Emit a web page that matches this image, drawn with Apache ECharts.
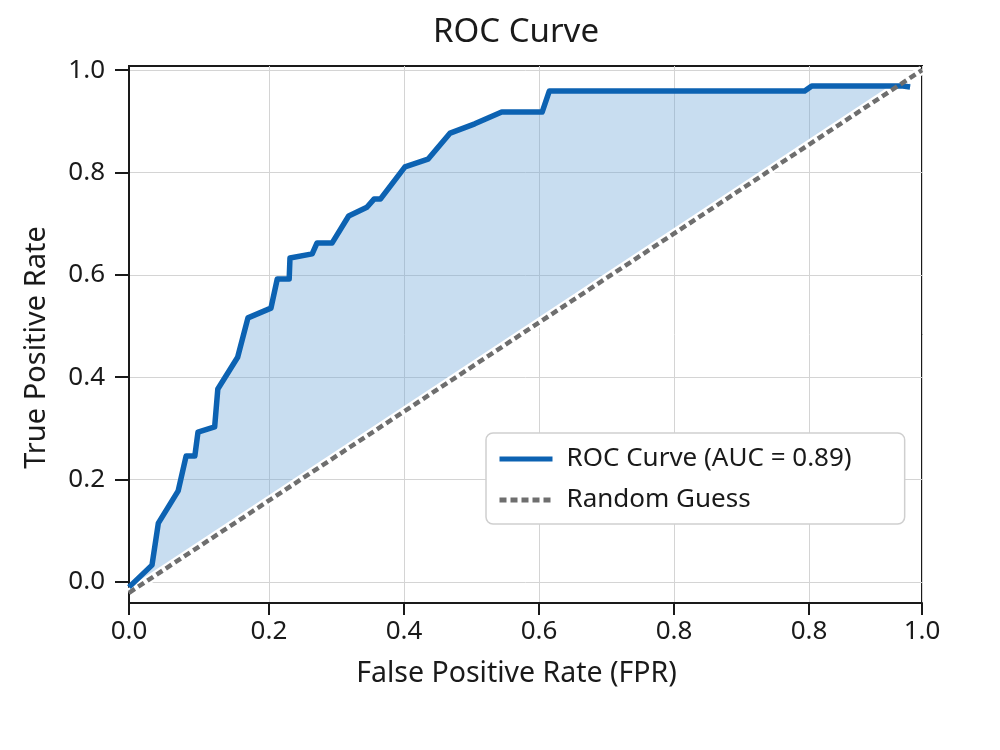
<!DOCTYPE html>
<html>
<head>
<meta charset="utf-8">
<script src="https://cdn.jsdelivr.net/npm/echarts@6/dist/echarts.min.js"></script>
<style>
html,body{margin:0;padding:0;background:#fff;}
#chart{width:1000px;height:750px;}
</style>
</head>
<body>
<div id="chart"></div>
<script>
// ---- data ----
const rocFpr = [0.000, 0.029, 0.037, 0.062, 0.072, 0.083, 0.087, 0.108, 0.112, 0.137, 0.150, 0.179, 0.187, 0.202, 0.203, 0.231, 0.237, 0.256, 0.277, 0.300, 0.309, 0.317, 0.348, 0.377, 0.405, 0.436, 0.470, 0.521, 0.530, 0.852, 0.861, 0.976, 0.985];
const rocTpr = [-0.010, 0.033, 0.115, 0.178, 0.246, 0.246, 0.293, 0.303, 0.377, 0.439, 0.516, 0.535, 0.592, 0.592, 0.633, 0.641, 0.662, 0.662, 0.715, 0.732, 0.748, 0.748, 0.811, 0.826, 0.877, 0.895, 0.918, 0.918, 0.959, 0.959, 0.969, 0.969, 0.967];
const diagFpr = [0, 1];
const diagTpr = [-0.021, 1.0];
const xTickValues = [0, 0.1765, 0.3468, 0.5170, 0.6873, 0.8575, 1.0];
const xTickLabels = ['0.0', '0.2', '0.4', '0.6', '0.8', '0.8', '1.0'];
const yTickValues = [0, 0.2, 0.4, 0.6, 0.8, 1.0];
const yTickLabels = ['0.0', '0.2', '0.4', '0.6', '0.8', '1.0'];
const rocName = 'ROC Curve (AUC = 0.89)';
const diagName = 'Random Guess';

const rocData = rocFpr.map((x, i) => [x, rocTpr[i]]);
const diagData = diagFpr.map((x, i) => [x, diagTpr[i]]);

const FONT = 'Noto Sans';
const INK = '#1a1a1a';
const chart = echarts.init(document.getElementById('chart'), null, {renderer: 'canvas'});

function labelFor(values, labels) {
  return function (v) {
    let best = 0, bd = Infinity;
    values.forEach((t, i) => { const d = Math.abs(t - v); if (d < bd) { bd = d; best = i; } });
    return labels[best];
  };
}
// y of the random-guess line at a given x (for closing the shaded region)
function diagAt(x) {
  const t = (x - diagFpr[0]) / (diagFpr[1] - diagFpr[0]);
  return diagTpr[0] + t * (diagTpr[1] - diagTpr[0]);
}

const option = {
  backgroundColor: '#ffffff',
  animation: false,
  title: {
    text: 'ROC Curve',
    left: 428,
    top: 11,
    textStyle: {fontFamily: FONT, fontSize: 33, fontWeight: 'normal', color: INK}
  },
  grid: {
    left: 129, right: 78, top: 66, bottom: 147,
    show: true, borderColor: INK, borderWidth: 2, backgroundColor: 'transparent'
  },
  legend: {
    data: [rocName, diagName],
    orient: 'vertical',
    left: 486, top: 433,
    padding: [12, 53, 10, 11],
    itemGap: 13,
    itemWidth: 53, itemHeight: 14,
    backgroundColor: '#ffffff',
    borderColor: '#cfcfcf', borderWidth: 1.5, borderRadius: 7,
    textStyle: {fontFamily: FONT, fontSize: 26, color: INK, lineHeight: 28, padding: [0, 0, 0, 9]},
    lineStyle: {width: 5},
    itemStyle: {opacity: 0}
  },
  xAxis: {
    type: 'value', min: 0, max: 1,
    name: 'False Positive Rate (FPR)', nameLocation: 'middle', nameGap: 56,
    nameTextStyle: {fontFamily: FONT, fontSize: 28.5, color: INK, padding: [0, 18, 0, 0]},
    axisLine: {show: true, onZero: false, lineStyle: {color: INK, width: 2}},
    axisTick: {show: true, length: 12, customValues: xTickValues, lineStyle: {color: INK, width: 2}},
    axisLabel: {customValues: xTickValues, margin: 16, fontFamily: FONT, fontSize: 26, color: INK, formatter: labelFor(xTickValues, xTickLabels)},
    splitLine: {show: true, lineStyle: {color: '#d4d4d4', width: 1}}
  },
  yAxis: {
    type: 'value', min: -0.041, max: 1.008,
    name: 'True Positive Rate', nameLocation: 'middle', nameGap: 78, nameRotate: 90,
    nameTextStyle: {fontFamily: FONT, fontSize: 29, color: INK, padding: [0, 26, 0, 0]},
    axisLine: {show: true, onZero: false, lineStyle: {color: INK, width: 2}},
    axisTick: {show: true, length: 14, customValues: yTickValues, lineStyle: {color: INK, width: 2}},
    axisLabel: {customValues: yTickValues, margin: 24, fontFamily: FONT, fontSize: 26, color: INK, formatter: labelFor(yTickValues, yTickLabels)},
    splitLine: {show: true, lineStyle: {color: '#d4d4d4', width: 1}}
  },
  series: [
    {
      name: 'area',
      type: 'custom',
      z: 1,
      silent: true,
      data: rocData,
      renderItem: function (params, api) {
        if (params.dataIndex !== 0) return null;
        const pts = rocData.map(p => api.coord(p));
        const xEnd = rocFpr[rocFpr.length - 1];
        pts.push(api.coord([xEnd, diagAt(xEnd)]));
        pts.push(api.coord(diagData[0]));
        return {
          type: 'polygon',
          shape: {points: pts},
          style: {fill: 'rgba(110,165,215,0.38)', stroke: 'none'}
        };
      }
    },
    {
      name: 'halo',
      type: 'line',
      z: 2,
      silent: true,
      data: diagData,
      showSymbol: false, symbol: 'none',
      lineStyle: {color: '#ffffff', width: 9, type: 'solid'}
    },
    {
      name: rocName,
      type: 'line',
      z: 3,
      data: rocData,
      showSymbol: false, symbol: 'none',
      lineStyle: {color: '#0c62b2', width: 5.5, join: 'round'},
      itemStyle: {color: '#0c62b2'}
    },
    {
      name: diagName,
      type: 'line',
      z: 4,
      data: diagData,
      showSymbol: false, symbol: 'none',
      lineStyle: {color: '#6e6e6e', width: 4.5, type: [7, 4], cap: 'butt'},
      itemStyle: {color: '#6e6e6e'}
    }
  ]
};
chart.setOption(option);
</script>
</body>
</html>
